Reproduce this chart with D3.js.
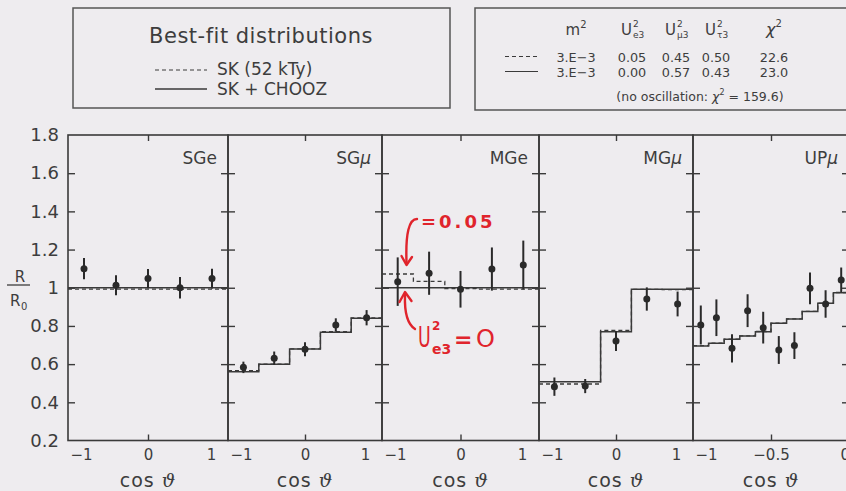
<!DOCTYPE html>
<html><head><meta charset="utf-8">
<script src="https://cdn.jsdelivr.net/npm/d3@7"></script>
<style>
html,body{margin:0;padding:0;background:#eeecef;}
svg{display:block;font-family:"DejaVu Sans",sans-serif;}
</style></head><body>
<svg id="chart" width="846" height="491"></svg>
<script>
// ---- data -------------------------------------------------------------
const panelNames = ["SGe", "SGμ", "MGe", "MGμ", "UPμ"];
const yLabelVals = [0.2, 0.4, 0.6, 0.8, 1.0, 1.2, 1.4, 1.6, 1.8];
const yTickVals  = [0.4, 0.6, 0.8, 1.0, 1.2, 1.4, 1.6];

const sgBinEdges = [-1, -0.6, -0.2, 0.2, 0.6, 1];
const upBinEdges = [-1, -0.9, -0.8, -0.7, -0.6, -0.5, -0.4, -0.3, -0.2, -0.1, 0];

// observed ratios and 1-sigma errors
const sgeObs = [1.10, 1.013, 1.048, 1.00, 1.048];
const sgeErr = [0.056, 0.052, 0.05, 0.056, 0.052];
const sgmObs = [0.583, 0.631, 0.678, 0.805, 0.843];
const sgmErr = [0.03, 0.035, 0.037, 0.035, 0.04];
const mgeObs = [1.032, 1.076, 0.992, 1.098, 1.119];
const mgeErr = [0.127, 0.113, 0.096, 0.113, 0.128];
const mgmObs = [0.482, 0.485, 0.721, 0.941, 0.915];
const mgmErr = [0.048, 0.037, 0.052, 0.061, 0.065];
const upmObs = [0.805, 0.843, 0.683, 0.880, 0.791, 0.674, 0.697, 0.997, 0.915, 1.041];
const upmErr = [0.102, 0.096, 0.074, 0.086, 0.083, 0.073, 0.07, 0.083, 0.072, 0.065];

// best-fit predictions: SK alone (dashed) and SK + CHOOZ (solid)
const sgeSK = [0.993, 0.993, 0.993, 0.993, 0.993];
const sgeSC = [1.0, 1.0, 1.0, 1.0, 1.0];
const sgmSK = [0.566, 0.600, 0.680, 0.770, 0.842];
const sgmSC = [0.560, 0.599, 0.679, 0.767, 0.840];
const mgeSK = [1.072, 1.033, 0.996, 0.993, 0.993];
const mgeSC = [1.0, 1.0, 1.0, 1.0, 1.0];
const mgmSK = [0.496, 0.496, 0.777, 0.992, 0.990];
const mgmSC = [0.508, 0.508, 0.770, 0.992, 0.992];
const upmSK = [0.697, 0.710, 0.731, 0.748, 0.771, 0.815, 0.837, 0.876, 0.920, 0.975];
const upmSC = [0.695, 0.709, 0.730, 0.747, 0.770, 0.814, 0.836, 0.875, 0.919, 0.974];

const xLabelVals = [[-1, 0, 1], [-1, 0, 1], [-1, 0, 1], [-1, 0, 1], [-1, -0.5, 0]];
const xInnerTicks = [[0], [0], [0], [0], [-0.5]];
const xDomains = [[-1, 1], [-1, 1], [-1, 1], [-1, 1], [-1, 0]];

// legend table
const fitRows = [
  {m2: "3.E−3", ue3: "0.05", um3: "0.45", ut3: "0.50", chi2: "22.6"},
  {m2: "3.E−3", ue3: "0.00", um3: "0.57", ut3: "0.43", chi2: "23.0"}
];
const noOscChi2 = "159.6";

// ---- layout ------------------------------------------------------------
const ink = "#3a3a3a";
const textInk = "#3d3d3d";
const panelEdges = [68, 228, 382, 539, 693, 849];
const plotTop = 135, plotBottom = 440.5;

const svg = d3.select("#chart");
svg.append("rect").attr("width", 846).attr("height", 491).attr("fill", "#eeecef");

const y = d3.scaleLinear().domain([0.2, 1.8]).range([plotBottom, plotTop]);

const panels = [
  {obs: sgeObs, err: sgeErr, sk: sgeSK, sc: sgeSC, edges: sgBinEdges},
  {obs: sgmObs, err: sgmErr, sk: sgmSK, sc: sgmSC, edges: sgBinEdges},
  {obs: mgeObs, err: mgeErr, sk: mgeSK, sc: mgeSC, edges: sgBinEdges},
  {obs: mgmObs, err: mgmErr, sk: mgmSK, sc: mgmSC, edges: sgBinEdges},
  {obs: upmObs, err: upmErr, sk: upmSK, sc: upmSC, edges: upBinEdges}
];

const fmtX = d => (d < 0 ? "−" : "") + Math.abs(d);
const fmtY = d => d === 1 ? "1" : d3.format(".1f")(d);

panels.forEach((p, i) => {
  const x0 = panelEdges[i], x1 = panelEdges[i + 1];
  const x = d3.scaleLinear().domain(xDomains[i]).range([x0, x1]);
  const g = svg.append("g");

  // step histograms
  const stepPts = vals => {
    const pts = vals.map((v, k) => [p.edges[k], v]);
    pts.push([p.edges[p.edges.length - 1], vals[vals.length - 1]]);
    return pts;
  };
  const line = d3.line().x(d => x(d[0])).y(d => y(d[1])).curve(d3.curveStepAfter);
  g.append("path").attr("d", line(stepPts(p.sc)))
    .attr("fill", "none").attr("stroke", ink).attr("stroke-width", 1.5);
  g.append("path").attr("d", line(stepPts(p.sk)))
    .attr("fill", "none").attr("stroke", ink).attr("stroke-width", 1.3)
    .attr("stroke-dasharray", "4,3");

  // data points with error bars
  const centers = p.obs.map((v, k) => (p.edges[k] + p.edges[k + 1]) / 2);
  const pts = g.append("g").selectAll("g").data(p.obs).join("g");
  pts.append("line")
    .attr("x1", (d, k) => x(centers[k])).attr("x2", (d, k) => x(centers[k]))
    .attr("y1", (d, k) => y(d - p.err[k])).attr("y2", (d, k) => y(d + p.err[k]))
    .attr("stroke", "#2a2a2a").attr("stroke-width", 2);
  pts.append("circle")
    .attr("cx", (d, k) => x(centers[k])).attr("cy", d => y(d))
    .attr("r", 3.5).attr("fill", "#2a2a2a");

  // frame
  g.append("rect").attr("x", x0).attr("y", plotTop)
    .attr("width", x1 - x0).attr("height", plotBottom - plotTop)
    .attr("fill", "none").attr("stroke", ink).attr("stroke-width", 1.6);

  // inward ticks on both vertical edges
  const tl = g.append("g").attr("transform", `translate(${x0},0)`)
    .call(d3.axisLeft(y).tickValues(yTickVals).tickSize(-7).tickFormat(""));
  const tr = g.append("g").attr("transform", `translate(${x1},0)`)
    .call(d3.axisRight(y).tickValues(yTickVals).tickSize(-7).tickFormat(""));
  const tb = g.append("g").attr("transform", `translate(0,${plotBottom})`)
    .call(d3.axisBottom(x).tickValues(xInnerTicks[i]).tickSize(-6).tickFormat(""));
  const tt = g.append("g").attr("transform", `translate(0,${plotTop})`)
    .call(d3.axisTop(x).tickValues(xInnerTicks[i]).tickSize(-6).tickFormat(""));
  [tl, tr, tb, tt].forEach(a => {
    a.select(".domain").remove();
    a.selectAll("line").attr("stroke", ink).attr("stroke-width", 1.4);
  });

  // x tick labels
  const lx = g.append("g").attr("transform", `translate(0,${plotBottom})`)
    .call(d3.axisBottom(x).tickValues(xLabelVals[i]).tickSize(0).tickPadding(9).tickFormat(fmtX));
  lx.select(".domain").remove();
  const nL = xLabelVals[i].length;
  lx.selectAll("text")
    .attr("fill", textInk).attr("font-size", 15).attr("font-family", "DejaVu Sans")
    .each(function(d, k) {
      const t = d3.select(this);
      if (k === 0) t.attr("text-anchor", "start").attr("x", 2);
      if (k === nL - 1) {
        if (i < 4) t.attr("x", -17);
        else t.attr("text-anchor", "start").attr("x", -9);
      }
    });

  // axis title
  const at = g.append("text").attr("x", (x0 + x1) / 2).attr("y", 487)
    .attr("text-anchor", "middle").attr("font-size", 19).attr("letter-spacing", 1)
    .attr("fill", textInk);
  at.append("tspan").text("cos ");
  at.append("tspan").attr("font-family", "DejaVu Serif").attr("font-style", "italic").text("ϑ");

  // panel name
  const name = panelNames[i];
  const nt = g.append("text").attr("x", x1 - 11).attr("y", 164)
    .attr("text-anchor", "end").attr("font-size", 17).attr("fill", textInk);
  if (name.endsWith("μ")) {
    nt.append("tspan").text(name.slice(0, -1));
    nt.append("tspan").attr("font-style", "italic").text("μ");
  } else nt.text(name);

  // y labels on the first panel only
  if (i === 0) {
    const ly = g.append("g").attr("transform", `translate(${x0},0)`)
      .call(d3.axisLeft(y).tickValues(yLabelVals).tickSize(0).tickPadding(9).tickFormat(fmtY));
    ly.select(".domain").remove();
    ly.selectAll("text").attr("fill", textInk).attr("font-size", 18).attr("font-family", "DejaVu Sans");
  }
});

// y-axis title R / R0
const yt = svg.append("g").attr("fill", textInk);
yt.append("text").attr("x", 20).attr("y", 282).attr("text-anchor", "middle").attr("font-size", 15).text("R");
yt.append("line").attr("x1", 7).attr("x2", 30).attr("y1", 285).attr("y2", 285)
  .attr("stroke", textInk).attr("stroke-width", 1.3);
yt.append("text").attr("x", 10).attr("y", 306).attr("font-size", 15).text("R");
yt.append("text").attr("x", 21).attr("y", 310).attr("font-size", 10).text("0");

// ---- legend: best-fit distributions --------------------------------------
const lg1 = svg.append("g");
lg1.append("rect").attr("x", 73).attr("y", 8).attr("width", 377).attr("height", 100)
  .attr("fill", "none").attr("stroke", "#555").attr("stroke-width", 1.5);
lg1.append("text").attr("x", 261).attr("y", 43).attr("text-anchor", "middle")
  .attr("font-size", 21).attr("letter-spacing", 0.5).attr("fill", textInk).text("Best-fit distributions");
lg1.append("line").attr("x1", 155).attr("x2", 207).attr("y1", 70).attr("y2", 70)
  .attr("stroke", ink).attr("stroke-width", 1.2).attr("stroke-dasharray", "4,3");
lg1.append("line").attr("x1", 155).attr("x2", 207).attr("y1", 89).attr("y2", 89)
  .attr("stroke", ink).attr("stroke-width", 1.3);
lg1.append("text").attr("x", 217).attr("y", 75).attr("font-size", 17).attr("fill", textInk).text("SK (52 kTy)");
lg1.append("text").attr("x", 217).attr("y", 95).attr("font-size", 17).attr("fill", textInk).text("SK + CHOOZ");

// ---- legend: fit parameters ------------------------------------------------
const lg2 = svg.append("g").attr("fill", textInk);
lg2.append("rect").attr("x", 475).attr("y", 8).attr("width", 400).attr("height", 102)
  .attr("fill", "none").attr("stroke", "#555").attr("stroke-width", 1.5);

const colX = {m2: 576, ue3: 632, um3: 676, ut3: 716, chi2: 774};
const hdrY = 35;
// m^2
const m2t = lg2.append("text").attr("x", colX.m2).attr("y", hdrY).attr("text-anchor", "middle").attr("font-size", 15);
m2t.append("tspan").text("m");
m2t.append("tspan").attr("font-size", 10).attr("dy", -7).text("2");
// U^2 with flavour subscript
function uHeader(cx, sub) {
  const gx = lg2.append("g");
  gx.append("text").attr("x", cx - 4).attr("y", hdrY).attr("text-anchor", "end").attr("font-size", 15).text("U");
  gx.append("text").attr("x", cx - 3).attr("y", hdrY - 8).attr("font-size", 9).text("2");
  gx.append("text").attr("x", cx - 3).attr("y", hdrY + 3).attr("font-size", 9).text(sub);
}
uHeader(colX.ue3 + 4, "e3");
uHeader(colX.um3 + 4, "μ3");
uHeader(colX.ut3 + 4, "τ3");
const ch = lg2.append("text").attr("x", colX.chi2).attr("y", hdrY).attr("text-anchor", "middle").attr("font-size", 16);
ch.append("tspan").attr("font-style", "italic").text("χ");
ch.append("tspan").attr("font-size", 10).attr("dy", -8).text("2");

const rowY = [61.5, 76.5];
fitRows.forEach((r, k) => {
  lg2.append("line").attr("x1", 505).attr("x2", 538).attr("y1", rowY[k] - 5).attr("y2", rowY[k] - 5)
    .attr("stroke", ink).attr("stroke-width", 1.2)
    .attr("stroke-dasharray", k === 0 ? "4,3" : null);
  Object.keys(colX).forEach(key => {
    lg2.append("text").attr("x", colX[key]).attr("y", rowY[k]).attr("text-anchor", "middle")
      .attr("font-size", 12.8).text(r[key]);
  });
});
const no = lg2.append("text").attr("x", 700).attr("y", 101).attr("text-anchor", "middle").attr("font-size", 12.5);
no.append("tspan").text("(no oscillation: ");
no.append("tspan").attr("font-style", "italic").text("χ");
no.append("tspan").attr("font-size", 8).attr("dy", -6).text("2");
no.append("tspan").attr("dy", 6).text(" = " + noOscChi2 + ")");

// ---- red annotations in MGe -----------------------------------------------
const red = "#e0242c";
const ann = svg.append("g").attr("fill", red);
ann.append("text").attr("x", 421).attr("y", 228).attr("font-size", 18).attr("font-weight", "bold")
  .attr("letter-spacing", 3).text("=0.05");
ann.append("path").attr("d", "M417,219 Q405,219 406.5,262").attr("fill", "none")
  .attr("stroke", red).attr("stroke-width", 2.4).attr("stroke-linecap", "round");
ann.append("path").attr("d", "M401.5,256 L406.5,265 L412,257").attr("fill", "none")
  .attr("stroke", red).attr("stroke-width", 2.4).attr("stroke-linecap", "round").attr("stroke-linejoin", "round");
ann.append("path").attr("d", "M415,329 Q404,322 405,295").attr("fill", "none")
  .attr("stroke", red).attr("stroke-width", 2.4).attr("stroke-linecap", "round");
ann.append("path").attr("d", "M399.5,302 L405,292 L411.5,301").attr("fill", "none")
  .attr("stroke", red).attr("stroke-width", 2.4).attr("stroke-linecap", "round").attr("stroke-linejoin", "round");
// U_{e3}^2 = 0, tall narrow handwritten U
ann.append("text").attr("transform", "translate(418,347) scale(0.62,1)")
  .attr("font-size", 28).text("U");
ann.append("text").attr("x", 432).attr("y", 330).attr("font-size", 12).attr("font-weight", "bold").text("2");
ann.append("text").attr("x", 432).attr("y", 354).attr("font-size", 14).attr("font-weight", "bold").text("e3");
ann.append("text").attr("x", 454).attr("y", 347).attr("font-size", 22).attr("font-weight", "bold").text("=");
ann.append("text").attr("x", 476).attr("y", 347).attr("font-size", 24).text("O");
</script>
</body></html>
